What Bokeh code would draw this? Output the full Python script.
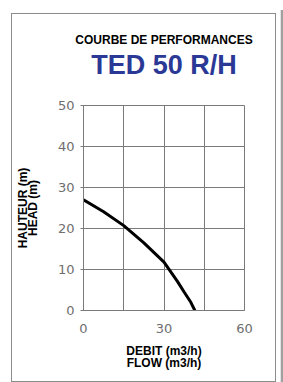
from bokeh.plotting import figure
from bokeh.models import Range1d, FixedTicker, LinearAxis
from bokeh.embed import file_html
from bokeh.resources import INLINE

# Data
flow = [0, 7.5, 15, 22.5, 30, 35, 37.5, 40, 41.5]
head = [27, 24.1, 20.7, 16.5, 11.8, 7.1, 4.5, 2.0, 0]
x_ticks = [0, 30, 60]
y_ticks = [0, 10, 20, 30, 40, 50]
x_grid = [15, 30, 45]
y_grid = [10, 20, 30, 40]

title1 = "COURBE DE PERFORMANCES"
title2 = "TED 50 R/H"
ylabel = "HAUTEUR (m)\nHEAD (m)"
xlabel = "DEBIT (m3/h)\nFLOW (m3/h)"

GRID = "#7a7a7a"
TICKC = "#6e6e6e"

p = figure(width=263, height=367, output_backend="svg", toolbar_location=None,
           x_range=Range1d(0, 60), y_range=Range1d(0, 50),
           min_border_left=71, min_border_right=31, min_border_top=91, min_border_bottom=71,
           margin=(14, 0, 0, 12),
           styles={"outline": "1px solid #8c8c8c",
                   "box-shadow": "1.7px 0 0 4px #ffffff, 8px 0 0 4px #a0a0a0"})
p.background_fill_color = "white"
p.border_fill_color = "white"
p.outline_line_color = GRID
p.outline_line_width = 1
p.outline_line_alpha = 1

xa = p.below[0]
ya = p.left[0]

xa.ticker = FixedTicker(ticks=x_ticks)
ya.ticker = FixedTicker(ticks=y_ticks)
p.xgrid.ticker = FixedTicker(ticks=x_grid)
p.ygrid.ticker = FixedTicker(ticks=y_grid)
for g in (p.xgrid, p.ygrid):
    g.grid_line_color = GRID
    g.grid_line_width = 1
    g.grid_line_alpha = 1

for ax in (xa, ya):
    ax.axis_line_color = GRID
    ax.major_tick_line_color = GRID
    ax.minor_tick_line_color = None
    ax.major_tick_in = 0
    ax.major_label_text_font = "DejaVu Sans"
    ax.major_label_text_font_size = "13px"
    ax.major_label_text_color = TICKC
    ax.axis_label_text_font = "Liberation Sans"
    ax.axis_label_text_font_style = "bold"
    ax.axis_label_text_font_size = "12px"
    ax.axis_label_text_color = "black"
ya.major_tick_out = 3
ya.major_label_standoff = 6
xa.major_tick_out = 0
xa.major_label_standoff = 13
ya.axis_label = ylabel
xa.axis_label = xlabel
ya.axis_label_standoff = 15
xa.axis_label_standoff = 8
ya.axis_label_text_line_height = 0.7
xa.axis_label_text_line_height = 0.92


def title_axis(text, size, color, standoff):
    ax = LinearAxis(ticker=FixedTicker(ticks=[]), axis_line_color=None,
                    major_tick_line_color=None, minor_tick_line_color=None,
                    major_tick_in=0, major_tick_out=0, minor_tick_in=0, minor_tick_out=0,
                    major_label_standoff=0, major_label_text_font_size="0px",
                    axis_label=text, axis_label_standoff=standoff,
                    axis_label_text_font="Liberation Sans", axis_label_text_font_style="bold",
                    axis_label_text_font_size=size, axis_label_text_color=color)
    p.add_layout(ax, "above")


title_axis(title2, "27px", "#2a3896", 26)
title_axis(title1, "12px", "black", 0)

p.line(flow, head, line_color="black", line_width=3)

open("out.html", "w").write(file_html(p, INLINE))
